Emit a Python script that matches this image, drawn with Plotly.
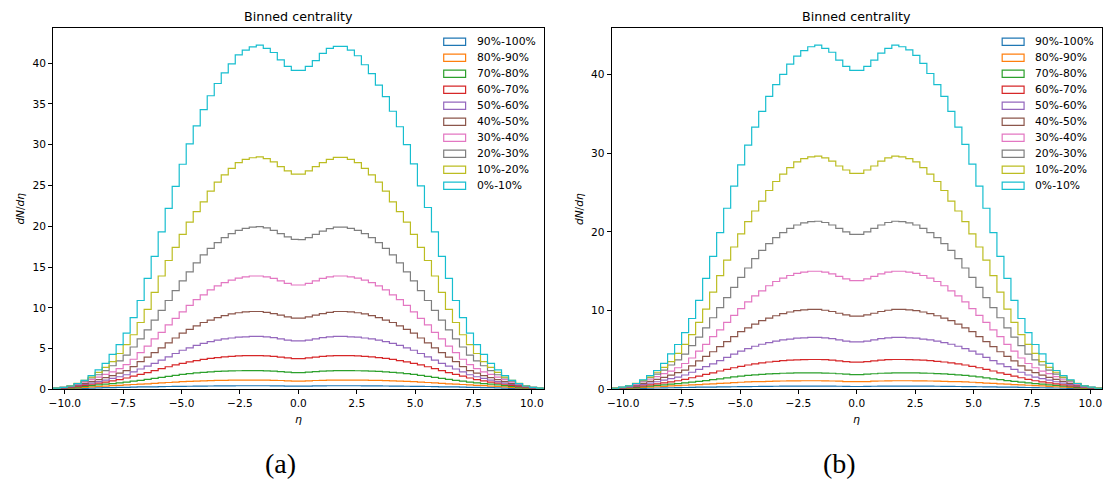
import numpy as np
import plotly.graph_objects as go

# ---------------- data ----------------
eta_lo, eta_hi, n_bins = -10.5, 10.5, 70
bin_edges = np.linspace(eta_lo, eta_hi, n_bins + 1)

labels = ["90%-100%", "80%-90%", "70%-80%", "60%-70%", "50%-60%",
          "40%-50%", "30%-40%", "20%-30%", "10%-20%", "0%-10%"]
colors = ["#1f77b4", "#ff7f0e", "#2ca02c", "#d62728", "#9467bd",
          "#8c564b", "#e377c2", "#7f7f7f", "#bcbd22", "#17becf"]

x_ticks = [-10.0, -7.5, -5.0, -2.5, 0.0, 2.5, 5.0, 7.5, 10.0]
y_ticks_a = [0, 5, 10, 15, 20, 25, 30, 35, 40]
y_ticks_b = [0, 10, 20, 30, 40]

# ---- panel (a) ----
a_90_100 = [0.04, 0.06, 0.08, 0.1, 0.13, 0.16, 0.19, 0.21, 0.23, 0.24, 0.26, 0.28, 0.3, 0.31, 0.32,
            0.34, 0.36, 0.37, 0.38, 0.39, 0.4, 0.41, 0.42, 0.43, 0.44, 0.44, 0.45, 0.45, 0.45, 0.45,
            0.45, 0.44, 0.43, 0.41, 0.4,
            0.4, 0.41, 0.43, 0.44, 0.45, 0.45, 0.45, 0.45, 0.45, 0.44, 0.44, 0.43, 0.42, 0.41, 0.4,
            0.39, 0.38, 0.37, 0.36, 0.34, 0.32, 0.31, 0.3, 0.28, 0.26, 0.24, 0.23, 0.21, 0.19, 0.16,
            0.13, 0.1, 0.08, 0.06, 0.04]
a_80_90 = [0.06, 0.1, 0.14, 0.19, 0.25, 0.3, 0.36, 0.41, 0.46, 0.5, 0.55, 0.6, 0.65, 0.69, 0.74,
           0.8, 0.85, 0.9, 0.95, 0.99, 1.02, 1.05, 1.08, 1.1, 1.12, 1.13, 1.14, 1.15, 1.15, 1.15,
           1.14, 1.12, 1.09, 1.05, 1.02,
           1.02, 1.05, 1.09, 1.12, 1.14, 1.15, 1.15, 1.15, 1.14, 1.13, 1.12, 1.1, 1.08, 1.05, 1.02,
           0.99, 0.95, 0.9, 0.85, 0.8, 0.74, 0.69, 0.65, 0.6, 0.55, 0.5, 0.46, 0.41, 0.36, 0.3,
           0.25, 0.19, 0.14, 0.1, 0.06]
a_70_80 = [0.08, 0.13, 0.2, 0.28, 0.37, 0.46, 0.56, 0.64, 0.72, 0.81, 0.9, 1.01, 1.12, 1.23, 1.35,
           1.48, 1.61, 1.73, 1.85, 1.94, 2.02, 2.09, 2.15, 2.2, 2.24, 2.27, 2.29, 2.3, 2.3, 2.3,
           2.28, 2.24, 2.18, 2.11, 2.06,
           2.06, 2.11, 2.18, 2.24, 2.28, 2.3, 2.3, 2.3, 2.29, 2.27, 2.24, 2.2, 2.15, 2.09, 2.02,
           1.94, 1.85, 1.73, 1.61, 1.48, 1.35, 1.23, 1.12, 1.01, 0.9, 0.81, 0.72, 0.64, 0.56, 0.46,
           0.37, 0.28, 0.2, 0.13, 0.08]
a_60_70 = [0.1, 0.17, 0.26, 0.38, 0.5, 0.63, 0.76, 0.9, 1.05, 1.2, 1.4, 1.62, 1.85, 2.07, 2.3,
           2.55, 2.78, 3.0, 3.2, 3.38, 3.53, 3.67, 3.8, 3.9, 3.98, 4.05, 4.1, 4.13, 4.15, 4.15,
           4.12, 4.05, 3.96, 3.86, 3.78,
           3.78, 3.86, 3.96, 4.05, 4.12, 4.15, 4.15, 4.13, 4.1, 4.05, 3.98, 3.9, 3.8, 3.67, 3.53,
           3.38, 3.2, 3.0, 2.78, 2.55, 2.3, 2.07, 1.85, 1.62, 1.4, 1.2, 1.05, 0.9, 0.76, 0.63,
           0.5, 0.38, 0.26, 0.17, 0.1]
a_50_60 = [0.12, 0.2, 0.3, 0.45, 0.6, 0.78, 0.96, 1.15, 1.35, 1.55, 1.8, 2.15, 2.5, 2.85, 3.2,
           3.6, 4.0, 4.4, 4.8, 5.1, 5.4, 5.65, 5.85, 6.05, 6.2, 6.3, 6.4, 6.45, 6.5, 6.5,
           6.45, 6.35, 6.2, 6.05, 5.95,
           5.95, 6.05, 6.2, 6.35, 6.45, 6.5, 6.5, 6.45, 6.4, 6.3, 6.2, 6.05, 5.85, 5.65, 5.4,
           5.1, 4.8, 4.4, 4.0, 3.6, 3.2, 2.85, 2.5, 2.15, 1.8, 1.55, 1.35, 1.15, 0.96, 0.78,
           0.6, 0.45, 0.3, 0.2, 0.12]
a_40_50 = [0.13, 0.22, 0.35, 0.52, 0.72, 0.95, 1.2, 1.45, 1.7, 2.0, 2.3, 2.8, 3.4, 3.95, 4.5,
           5.1, 5.7, 6.3, 6.9, 7.35, 7.8, 8.2, 8.5, 8.8, 9.05, 9.25, 9.4, 9.5, 9.55, 9.55,
           9.45, 9.3, 9.1, 8.9, 8.75,
           8.75, 8.9, 9.1, 9.3, 9.45, 9.55, 9.55, 9.5, 9.4, 9.25, 9.05, 8.8, 8.5, 8.2, 7.8,
           7.35, 6.9, 6.3, 5.7, 5.1, 4.5, 3.95, 3.4, 2.8, 2.3, 2.0, 1.7, 1.45, 1.2, 0.95,
           0.72, 0.52, 0.35, 0.22, 0.13]
a_30_40 = [0.14, 0.24, 0.4, 0.62, 0.9, 1.2, 1.5, 1.85, 2.15, 2.55, 3.05, 3.7, 4.5, 5.3, 6.2,
           7.0, 7.9, 8.7, 9.5, 10.3, 11.0, 11.6, 12.2, 12.7, 13.1, 13.4, 13.65, 13.8, 13.9, 13.9,
           13.8, 13.6, 13.3, 13.0, 12.8,
           12.8, 13.0, 13.3, 13.6, 13.8, 13.9, 13.9, 13.8, 13.65, 13.4, 13.1, 12.7, 12.2, 11.6, 11.0,
           10.3, 9.5, 8.7, 7.9, 7.0, 6.2, 5.3, 4.5, 3.7, 3.05, 2.55, 2.15, 1.85, 1.5, 1.2,
           0.9, 0.62, 0.4, 0.24, 0.14]
a_20_30 = [0.15, 0.25, 0.42, 0.7, 1.0, 1.4, 1.8, 2.3, 2.9, 3.5, 4.2, 5.2, 6.2, 7.3, 8.5,
           9.7, 10.9, 12.1, 13.3, 14.4, 15.5, 16.5, 17.3, 18.0, 18.6, 19.1, 19.5, 19.75, 19.9, 19.95,
           19.8, 19.5, 19.1, 18.7, 18.4,
           18.35, 18.6, 19.0, 19.4, 19.7, 19.9, 19.9, 19.75, 19.5, 19.1, 18.6, 18.0, 17.3, 16.5, 15.5,
           14.4, 13.3, 12.1, 10.9, 9.7, 8.5, 7.3, 6.2, 5.2, 4.2, 3.5, 2.9, 2.3, 1.8, 1.4,
           1.0, 0.7, 0.42, 0.25, 0.15]
a_10_20 = [0.15, 0.25, 0.45, 0.75, 1.1, 1.5, 2.1, 2.7, 3.4, 4.4, 5.5, 6.7, 8.2, 9.8, 11.9,
           13.9, 15.8, 17.4, 19.0, 20.5, 21.8, 23.0, 24.3, 25.4, 26.3, 27.1, 27.8, 28.2, 28.4, 28.5,
           28.3, 27.9, 27.3, 26.8, 26.4,
           26.4, 26.8, 27.3, 27.8, 28.2, 28.45, 28.45, 28.2, 27.8, 27.1, 26.3, 25.4, 24.3, 23.0, 21.8,
           20.5, 19.0, 17.4, 15.8, 13.9, 11.9, 9.8, 8.2, 6.7, 5.5, 4.4, 3.4, 2.7, 2.1, 1.5,
           1.1, 0.75, 0.45, 0.25, 0.15]
a_0_10 = [0.15, 0.25, 0.42, 0.7, 1.1, 1.7, 2.4, 3.2, 4.3, 5.5, 6.9, 8.8, 10.9, 13.6, 16.3,
          19.3, 22.2, 24.9, 27.6, 30.1, 32.3, 34.3, 36.0, 37.5, 38.8, 39.9, 41.0, 41.6, 42.0, 42.2,
          41.8, 41.3, 40.4, 39.6, 39.1,
          39.1, 39.6, 40.3, 41.2, 41.8, 42.05, 42.05, 41.6, 40.9, 39.8, 38.7, 37.3, 35.9, 34.1, 32.2,
          30.0, 27.65, 24.95, 22.3, 19.3, 16.3, 13.6, 10.9, 8.8, 6.9, 5.5, 4.3, 3.2, 2.4, 1.7,
          1.1, 0.7, 0.42, 0.25, 0.15]

# ---- panel (b) ----
b_90_100 = [0.04, 0.06, 0.07, 0.09, 0.12, 0.15, 0.18, 0.2, 0.21, 0.22, 0.24, 0.26, 0.28, 0.29, 0.3,
            0.32, 0.33, 0.34, 0.35, 0.36, 0.37, 0.38, 0.39, 0.4, 0.41, 0.41, 0.42, 0.42, 0.42, 0.42,
            0.42, 0.41, 0.4, 0.38, 0.37,
            0.37, 0.38, 0.4, 0.41, 0.42, 0.42, 0.42, 0.42, 0.42, 0.41, 0.41, 0.4, 0.39, 0.38, 0.37,
            0.36, 0.35, 0.34, 0.33, 0.32, 0.3, 0.29, 0.28, 0.26, 0.24, 0.22, 0.21, 0.2, 0.18, 0.15,
            0.12, 0.09, 0.07, 0.06, 0.04]
b_80_90 = [0.06, 0.1, 0.13, 0.18, 0.24, 0.29, 0.34, 0.39, 0.44, 0.48, 0.53, 0.57, 0.62, 0.66, 0.71,
           0.77, 0.81, 0.86, 0.91, 0.95, 0.98, 1.0, 1.03, 1.05, 1.07, 1.08, 1.09, 1.1, 1.1, 1.1,
           1.09, 1.07, 1.04, 1.0, 0.98,
           0.98, 1.0, 1.04, 1.07, 1.09, 1.1, 1.1, 1.1, 1.09, 1.08, 1.07, 1.05, 1.03, 1.0, 0.98,
           0.95, 0.91, 0.86, 0.81, 0.77, 0.71, 0.66, 0.62, 0.57, 0.53, 0.48, 0.44, 0.39, 0.34, 0.29,
           0.24, 0.18, 0.13, 0.1, 0.06]
b_70_80 = [0.07, 0.12, 0.18, 0.26, 0.34, 0.42, 0.51, 0.58, 0.66, 0.74, 0.82, 0.92, 1.02, 1.12, 1.23,
           1.35, 1.47, 1.58, 1.69, 1.77, 1.84, 1.91, 1.96, 2.01, 2.05, 2.07, 2.09, 2.1, 2.1, 2.1,
           2.08, 2.05, 1.99, 1.93, 1.88,
           1.88, 1.93, 1.99, 2.05, 2.08, 2.1, 2.1, 2.1, 2.09, 2.07, 2.05, 2.01, 1.96, 1.91, 1.84,
           1.77, 1.69, 1.58, 1.47, 1.35, 1.23, 1.12, 1.02, 0.92, 0.82, 0.74, 0.66, 0.58, 0.51, 0.42,
           0.34, 0.26, 0.18, 0.12, 0.07]
b_60_70 = [0.09, 0.16, 0.24, 0.35, 0.46, 0.58, 0.7, 0.82, 0.96, 1.1, 1.28, 1.48, 1.69, 1.9, 2.11,
           2.34, 2.55, 2.75, 2.93, 3.1, 3.23, 3.36, 3.48, 3.57, 3.65, 3.71, 3.76, 3.78, 3.8, 3.8,
           3.77, 3.71, 3.63, 3.54, 3.46,
           3.46, 3.54, 3.63, 3.71, 3.77, 3.8, 3.8, 3.78, 3.76, 3.71, 3.65, 3.57, 3.48, 3.36, 3.23,
           3.1, 2.93, 2.75, 2.55, 2.34, 2.11, 1.9, 1.69, 1.48, 1.28, 1.1, 0.96, 0.82, 0.7, 0.58,
           0.46, 0.35, 0.24, 0.16, 0.09]
b_50_60 = [0.12, 0.2, 0.3, 0.46, 0.61, 0.79, 0.97, 1.17, 1.37, 1.57, 1.83, 2.18, 2.54, 2.89, 3.25,
           3.65, 4.06, 4.47, 4.87, 5.18, 5.48, 5.73, 5.94, 6.14, 6.29, 6.39, 6.5, 6.55, 6.6, 6.6,
           6.55, 6.45, 6.29, 6.14, 6.04,
           6.04, 6.14, 6.29, 6.45, 6.55, 6.6, 6.6, 6.55, 6.5, 6.39, 6.29, 6.14, 5.94, 5.73, 5.48,
           5.18, 4.87, 4.47, 4.06, 3.65, 3.25, 2.89, 2.54, 2.18, 1.83, 1.57, 1.37, 1.17, 0.97, 0.79,
           0.61, 0.46, 0.3, 0.2, 0.12]
b_40_50 = [0.14, 0.23, 0.37, 0.55, 0.77, 1.01, 1.28, 1.54, 1.81, 2.13, 2.44, 2.98, 3.61, 4.2, 4.78,
           5.42, 6.06, 6.7, 7.33, 7.81, 8.29, 8.72, 9.04, 9.35, 9.62, 9.83, 9.99, 10.1, 10.15, 10.15,
           10.05, 9.89, 9.67, 9.46, 9.3,
           9.3, 9.46, 9.67, 9.89, 10.05, 10.15, 10.15, 10.1, 9.99, 9.83, 9.62, 9.35, 9.04, 8.72, 8.29,
           7.81, 7.33, 6.7, 6.06, 5.42, 4.78, 4.2, 3.61, 2.98, 2.44, 2.13, 1.81, 1.54, 1.28, 1.01,
           0.77, 0.55, 0.37, 0.23, 0.14]
b_30_40 = [0.15, 0.26, 0.43, 0.67, 0.97, 1.29, 1.62, 2.0, 2.32, 2.75, 3.29, 3.99, 4.86, 5.72, 6.69,
           7.55, 8.52, 9.39, 10.25, 11.11, 11.87, 12.52, 13.16, 13.7, 14.13, 14.46, 14.73, 14.89, 15.0, 15.0,
           14.89, 14.67, 14.35, 14.03, 13.81,
           13.81, 14.03, 14.35, 14.67, 14.89, 15.0, 15.0, 14.89, 14.73, 14.46, 14.13, 13.7, 13.16, 12.52, 11.87,
           11.11, 10.25, 9.39, 8.52, 7.55, 6.69, 5.72, 4.86, 3.99, 3.29, 2.75, 2.32, 2.0, 1.62, 1.29,
           0.97, 0.67, 0.43, 0.26, 0.15]
b_20_30 = [0.16, 0.27, 0.45, 0.75, 1.07, 1.5, 1.93, 2.46, 3.1, 3.75, 4.49, 5.56, 6.63, 7.81, 9.1,
           10.38, 11.66, 12.95, 14.23, 15.41, 16.59, 17.66, 18.51, 19.26, 19.9, 20.44, 20.87, 21.13, 21.29, 21.35,
           21.19, 20.87, 20.44, 20.01, 19.69,
           19.69, 20.01, 20.44, 20.87, 21.19, 21.35, 21.29, 21.13, 20.87, 20.44, 19.9, 19.26, 18.51, 17.66, 16.59,
           15.41, 14.23, 12.95, 11.66, 10.38, 9.1, 7.81, 6.63, 5.56, 4.49, 3.75, 3.1, 2.46, 1.93, 1.5,
           1.07, 0.75, 0.45, 0.27, 0.16]
b_10_20 = [0.16, 0.26, 0.47, 0.78, 1.14, 1.56, 2.18, 2.8, 3.53, 4.57, 5.71, 6.96, 8.52, 10.18, 12.36,
           14.44, 16.42, 18.08, 19.74, 21.3, 22.65, 23.9, 25.25, 26.39, 27.33, 28.16, 28.88, 29.3, 29.51, 29.61,
           29.4, 28.99, 28.36, 27.85, 27.43,
           27.43, 27.85, 28.36, 28.99, 29.4, 29.61, 29.51, 29.3, 28.88, 28.16, 27.33, 26.39, 25.25, 23.9, 22.65,
           21.3, 19.74, 18.08, 16.42, 14.44, 12.36, 10.18, 8.52, 6.96, 5.71, 4.57, 3.53, 2.8, 2.18, 1.56,
           1.14, 0.78, 0.47, 0.26, 0.16]
b_0_10 = [0.15, 0.3, 0.45, 0.75, 1.2, 1.75, 2.4, 3.3, 4.5, 5.7, 7.2, 9.0, 11.3, 14.1, 16.9,
          19.9, 23.0, 25.8, 28.5, 31.0, 33.3, 35.3, 37.2, 38.7, 40.0, 41.3, 42.3, 43.0, 43.5, 43.7,
          43.3, 42.8, 41.8, 41.0, 40.5,
          40.5, 41.0, 41.8, 42.7, 43.3, 43.7, 43.5, 43.1, 42.4, 41.4, 40.1, 38.7, 37.2, 35.3, 33.3,
          31.1, 28.6, 25.8, 23.0, 19.9, 16.9, 14.1, 11.3, 9.0, 7.2, 5.7, 4.5, 3.3, 2.4, 1.75,
          1.2, 0.75, 0.45, 0.3, 0.15]

panel_a = [a_90_100, a_80_90, a_70_80, a_60_70, a_50_60, a_40_50, a_30_40, a_20_30, a_10_20, a_0_10]
panel_b = [b_90_100, b_80_90, b_70_80, b_60_70, b_50_60, b_40_50, b_30_40, b_20_30, b_10_20, b_0_10]

# ---------------- layout constants (pixels) ----------------
W, H = 1107, 484
AX_L, AX_T, AX_W, AX_H = 48.3, 28.3, 492.7, 366.0
OFF_B = 561.0
FONT = "DejaVu Sans"
TICK_SIZE = 10.6


def px_x(px):
    return px / W


def px_y(py):
    return (H - py) / H


fig = go.Figure()

panels = [(panel_a, "x", "y"), (panel_b, "x2", "y2")]
for vals_list, xa, ya in panels:
    for lab, col, vals in zip(labels, colors, vals_list):
        assert len(vals) == n_bins, (lab, len(vals))
        xs = [bin_edges[0]] + list(bin_edges[:-1]) + [bin_edges[-1], bin_edges[-1]]
        ys = [0.0] + list(vals) + [vals[-1], 0.0]
        fig.add_trace(go.Scatter(
            x=xs, y=ys, mode="lines", line=dict(color=col, width=1.2, shape="hv"),
            name=lab, showlegend=False, hoverinfo="skip", xaxis=xa, yaxis=ya))

axis_common = dict(
    showline=True, linecolor="black", linewidth=1, mirror=True,
    ticks="outside", ticklen=4, tickwidth=1, tickcolor="black",
    showgrid=False, zeroline=False,
    tickfont=dict(family=FONT, size=TICK_SIZE, color="black"),
)

ydom = [px_y(AX_T + AX_H), px_y(AX_T)]
ymax_a = max(max(v) for v in panel_a) * 1.05
ymax_b = max(max(v) for v in panel_b) * 1.05

fig.update_layout(
    width=W, height=H, autosize=False,
    margin=dict(l=0, r=0, t=0, b=0),
    paper_bgcolor="white", plot_bgcolor="white",
    font=dict(family=FONT, color="black"),
    showlegend=False,
    xaxis=dict(domain=[px_x(AX_L), px_x(AX_L + AX_W)], range=[eta_lo, eta_hi],
               tickvals=x_ticks, tickformat=".1f", anchor="y", **axis_common),
    yaxis=dict(domain=ydom, range=[0, ymax_a], tickvals=y_ticks_a, anchor="x", **axis_common),
    xaxis2=dict(domain=[px_x(AX_L + OFF_B), px_x(AX_L + OFF_B + AX_W)], range=[eta_lo, eta_hi],
                tickvals=x_ticks, tickformat=".1f", anchor="y2", **axis_common),
    yaxis2=dict(domain=ydom, range=[0, ymax_b], tickvals=y_ticks_b, anchor="x2", **axis_common),
)

shapes = []
annotations = []

for i_panel, (xa, ya) in enumerate([("x", "y"), ("x2", "y2")]):
    off = OFF_B * i_panel
    cx = AX_L + AX_W / 2 + off
    # title
    annotations.append(dict(text="Binned centrality", x=px_x(cx), y=px_y(16.7), xref="paper", yref="paper",
                            showarrow=False, xanchor="center", yanchor="middle",
                            font=dict(family=FONT, size=12.7, color="black")))
    # x label
    annotations.append(dict(text="<i>η</i>", x=px_x(cx), y=px_y(424.5), xref="paper", yref="paper",
                            showarrow=False, xanchor="center", yanchor="middle",
                            font=dict(family=FONT, size=11, color="black")))
    # y label
    annotations.append(dict(text="<i>dN</i>/<i>dη</i>", x=px_x(15 + off), y=px_y(AX_T + AX_H / 2),
                            xref="paper", yref="paper", showarrow=False, textangle=-90,
                            xanchor="center", yanchor="middle",
                            font=dict(family=FONT, size=10.6, color="black")))
    # caption
    annotations.append(dict(text="(a)" if i_panel == 0 else "(b)", x=px_x(277 + off), y=px_y(469),
                            xref="paper", yref="paper", showarrow=False, xanchor="center", yanchor="middle",
                            font=dict(family="Liberation Serif", size=28, color="black")))
    # manual legend (rectangle patches like matplotlib step hist)
    for i, (lab, col) in enumerate(zip(labels, colors)):
        yc = 42.3 + 16.2 * i
        shapes.append(dict(type="rect", xref="paper", yref="paper",
                           x0=px_x(440.7 + off), x1=px_x(462.7 + off),
                           y0=px_y(yc + 3.6), y1=px_y(yc - 3.6),
                           line=dict(color=col, width=1.2), fillcolor="rgba(0,0,0,0)"))
        annotations.append(dict(text=lab, x=px_x(471.7 + off), y=px_y(yc), xref="paper", yref="paper",
                                showarrow=False, xanchor="left", yanchor="middle",
                                font=dict(family=FONT, size=10.8, color="black")))

fig.update_layout(shapes=shapes, annotations=annotations)

# make the page chrome-free and let the figure fill exactly the visible viewport
page_js = (
    "var s='margin:0;padding:0;overflow:hidden';"
    "document.documentElement.style.cssText=s;document.body.style.cssText=s;"
    "var gd=document.getElementById('{plot_id}');"
    "var vw=document.documentElement.clientWidth||window.innerWidth;"
    "var vh=document.documentElement.clientHeight||window.innerHeight;"
    "if(vw>300&&vh>200&&(Math.abs(vw-%d)>0.5||Math.abs(vh-%d)>0.5)){"
    "Plotly.relayout(gd,{width:vw,height:vh});}" % (W, H)
)
fig.write_html("out.html", config={"displayModeBar": False, "responsive": False},
               post_script=page_js)
